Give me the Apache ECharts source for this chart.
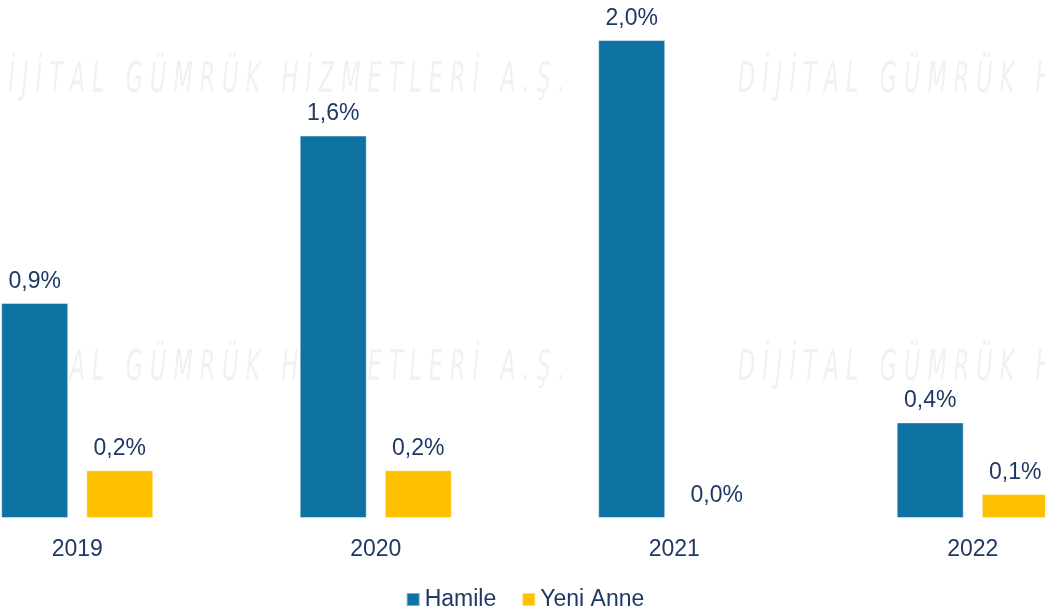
<!DOCTYPE html>
<html>
<head>
<meta charset="utf-8">
<script src="https://cdn.jsdelivr.net/npm/echarts@6/dist/echarts.min.js"></script>
<style>
  html, body { margin: 0; padding: 0; background: #ffffff; overflow: hidden; }
  /* the outer categories run past the window edges, so the canvas is wider and shifted left */
  #chart { width: 1194px; height: 611px; margin-left: -72px; }
</style>
</head>
<body>
<div id="chart"></div>
<script>
// data
const years = ['2019', '2020', '2021', '2022'];
const hamile = [0.9, 1.6, 2.0, 0.4];
const yeniAnne = [0.2, 0.2, 0.0, 0.1];

const textColor = '#1f3864';
const font = 'Liberation Sans, Arial, sans-serif';
const watermark = 'D İ J İ T A L   G Ü M R Ü K   H İ Z M E T L E R İ   A . Ş .';
const shift = 72;

const myChart = echarts.init(document.getElementById('chart'));

// faint watermark text behind the chart
const wmRows = [60, 348];
const wmCols = [-16, 738];
const graphics = [];
wmRows.forEach(y => {
  wmCols.forEach(x => {
    graphics.push({
      type: 'text',
      x: x + shift,
      y: y,
      z: -10,
      silent: true,
      scaleX: 0.53,
      style: {
        text: watermark,
        fill: '#f0f2f2',
        font: 'italic 42px "DejaVu Sans", sans-serif'
      }
    });
  });
});

const fmt = p => p.value.toFixed(1).replace('.', ',') + '%';

const option = {
  backgroundColor: '#ffffff',
  animation: false,
  graphic: graphics,
  grid: { left: 0, right: 0, top: 40, bottom: 93 },
  legend: {
    data: ['Hamile', 'Yeni Anne'],
    bottom: -5,
    left: 'center',
    itemWidth: 13,
    itemHeight: 13,
    itemGap: 25,
    icon: 'rect',
    textStyle: { color: textColor, fontSize: 23, fontFamily: font }
  },
  xAxis: {
    type: 'category',
    data: years,
    axisLine: { show: false },
    axisTick: { show: false },
    axisLabel: { color: textColor, fontSize: 23, margin: 20, fontFamily: font }
  },
  yAxis: {
    type: 'value',
    min: 0,
    max: 2.0,
    show: false
  },
  series: [
    {
      name: 'Hamile',
      type: 'bar',
      data: hamile,
      barWidth: 67,
      barGap: '27%',
      itemStyle: { color: '#0e72a2', borderColor: 'rgba(255,255,255,0.45)', borderWidth: 1 },
      label: { show: true, position: 'top', distance: 10, color: textColor, fontSize: 23, formatter: fmt, fontFamily: font }
    },
    {
      name: 'Yeni Anne',
      type: 'bar',
      data: yeniAnne,
      barWidth: 67,
      itemStyle: { color: '#ffc000', borderColor: 'rgba(255,255,255,0.45)', borderWidth: 1 },
      label: { show: true, position: 'top', distance: 10, color: textColor, fontSize: 23, formatter: fmt, fontFamily: font }
    }
  ]
};

myChart.setOption(option);
</script>
</body>
</html>
